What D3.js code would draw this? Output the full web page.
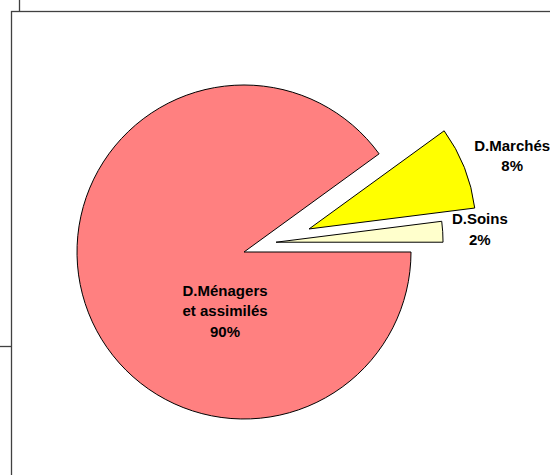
<!DOCTYPE html>
<html>
<head>
<meta charset="utf-8">
<script src="https://cdn.jsdelivr.net/npm/d3@7"></script>
<style>
  body { margin: 0; background: #fff; }
  svg { display: block; }
</style>
</head>
<body>
<script>
// Chart data
var categories = ["D.Ménagers et assimilés", "D.Marchés", "D.Soins"];
var values     = [90, 8, 2];
var label_lines = [["D.Ménagers", "et assimilés", "90%"], ["D.Marchés", "8%"], ["D.Soins", "2%"]];

// Styles
var colors = ["#FF8080", "#FFFF00", "#FFFFCC"];
var width  = 550;
var height = 475;
var center_x = 244;
var center_y = 252;
var radius   = 167;

// Explosion of each slice (distance, direction in degrees above horizontal)
var explode = [[0, 0], [69, 19.5], [33.5, 17]];
// Label anchor (distance, direction in degrees above horizontal) from pie center
var label_anchor = [[62, -107.8], [285, 19.8], [237, 5.6]];
var line_height = 20.5;

var svg = d3.select("body").append("svg")
    .attr("width", width)
    .attr("height", height);

// Frame around the plot (runs off the page right and bottom)
svg.append("rect")
    .attr("x", 11.5).attr("y", 11.5)
    .attr("width", width + 20).attr("height", height + 20)
    .attr("fill", "none")
    .attr("stroke", "#404040")
    .attr("stroke-width", 1.3);

// Small bits of neighbouring frames
svg.append("line")
    .attr("x1", 19.5).attr("y1", 0).attr("x2", 19.5).attr("y2", 11.5)
    .attr("stroke", "#404040").attr("stroke-width", 1.3);
svg.append("line")
    .attr("x1", 0).attr("y1", 346.5).attr("x2", 11.5).attr("y2", 346.5)
    .attr("stroke", "#404040").attr("stroke-width", 1.3);

// Slices, clockwise from 3 o'clock
var pie = d3.pie()
    .sort(null)
    .startAngle(Math.PI / 2)
    .endAngle(Math.PI / 2 + 2 * Math.PI);

var arc = d3.arc()
    .innerRadius(0)
    .outerRadius(radius);

var slices = pie(values);

function to_xy(dist, deg) {
    var a = deg * Math.PI / 180;
    return [dist * Math.cos(a), -dist * Math.sin(a)];
}

var g = svg.append("g")
    .attr("transform", "translate(" + center_x + "," + center_y + ")");

g.selectAll("path")
    .data(slices)
    .enter()
    .append("path")
    .attr("d", arc)
    .attr("transform", function (d, i) {
        var off = to_xy(explode[i][0], explode[i][1]);
        return "translate(" + off[0] + "," + off[1] + ")";
    })
    .attr("fill", function (d, i) { return colors[i]; })
    .attr("stroke", "#000")
    .attr("stroke-width", 1)
    .attr("stroke-linejoin", "round");

// Labels
var labels = g.selectAll("text.lbl")
    .data(slices)
    .enter()
    .append("text")
    .attr("class", "lbl")
    .attr("text-anchor", "middle")
    .attr("font-family", "Liberation Sans, Arial, sans-serif")
    .attr("font-weight", "bold")
    .attr("font-size", "15px")
    .attr("fill", "#000")
    .attr("transform", function (d, i) {
        var p = to_xy(label_anchor[i][0], label_anchor[i][1]);
        var n = label_lines[i].length;
        return "translate(" + p[0] + "," + (p[1] - (n - 1) * line_height / 2 + 5.4) + ")";
    });

labels.selectAll("tspan")
    .data(function (d, i) { return label_lines[i]; })
    .enter()
    .append("tspan")
    .attr("x", 0)
    .attr("y", function (d, j) { return j * line_height; })
    .text(function (d) { return d; });
</script>
</body>
</html>
